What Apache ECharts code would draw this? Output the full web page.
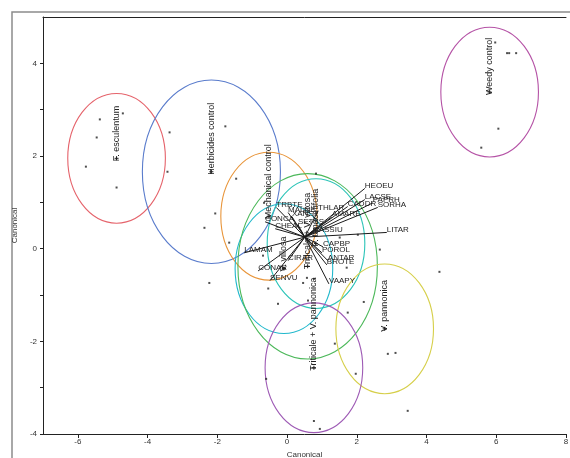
<!DOCTYPE html>
<html>
<head>
<meta charset="utf-8">
<script src="https://cdn.jsdelivr.net/npm/echarts@6/dist/echarts.min.js"></script>
<style>
html, body { margin: 0; padding: 0; background: #fff; }
#chart { width: 570px; height: 458px; }
</style>
</head>
<body>
<div id="chart"></div>
<script>
// groups: centroid, circle radius (canonical units)
const groupNames = ['F. esculentum', 'Herbicides control', 'Mechanical control', 'V. villosa', 'Triticale + V. villosa', 'P. tanacetifolia', 'V. pannonica', 'Triticale + V. pannonica', 'Weedy control']
const groupX = [-4.89, -2.17, -0.52, -0.09, 0.59, 0.83, 2.8, 0.77, 5.81]
const groupY = [1.95, 1.66, 0.7, -0.43, -0.38, 0.11, -1.73, -2.57, 3.38]
const groupR = [1.4, 1.98, 1.38, 1.4, 2.0, 1.4, 1.4, 1.4, 1.4]
const groupColors = ['#e5636b', '#5a7ccc', '#e8953a', '#22b8cc', '#4cb85a', '#2cc4b8', '#d6cf4a', '#9e5bb5', '#b553a6']

// plots (canonical scores)
const pointX = [5.97, 6.31, 6.37, 6.57, 6.06, 5.57,
  -5.77, -5.46, -5.37, -4.71, -4.89,
  -3.37, -3.43, -1.77, -1.46, -2.06, -2.37, -1.66, -2.23,
  -0.66, -0.69, -0.54, -0.26, -0.6, 0.57, 0.46, 0.77, 0.83, 2.03, 1.51, 2.66, 1.71,
  2.2, 0.6, 1.74, 1.37, 1.97, 0.77, 0.94, 2.89, 3.11, 3.46, 4.37]
const pointY = [4.45, 4.22, 4.22, 4.22, 2.59, 2.18,
  1.77, 2.40, 2.79, 2.92, 1.32,
  2.51, 1.66, 2.64, 1.51, 0.76, 0.45, 0.13, -0.74,
  0.99, -0.15, -0.86, -1.19, -2.81, -0.63, -0.74, -0.65, 1.62, 0.30, 0.24, -0.02, -0.41,
  -1.15, -1.12, -1.38, -2.05, -2.70, -3.72, -3.89, -2.27, -2.25, -3.50, -0.5]

// weed species vectors
const vecOrigin = [0.51, 0.25]
const vecNames = ['TRBTE', 'MALNE', 'THLAR', 'CADDR', 'HEOEU', 'LACSE', 'PAPRH', 'SORHA', 'XANST', 'AMARE',
  'CONCA', 'SETSS', 'CHEAL', 'CASSIU', 'LITAR', 'CAPBP', 'POROL', 'ANTAR', 'BROTE', 'VAAPY',
  'CIRAR', 'LAMAM', 'CONAR', 'SENVU']
const vecX = [-0.31, 0.03, 0.89, 1.74, 2.23, 2.23, 2.46, 2.60, 0.14, 1.29,
  -0.63, 0.31, -0.34, 0.74, 2.86, 1.03, 1.0, 1.17, 1.14, 1.2,
  0.03, -1.23, -0.83, -0.49]
const vecY = [0.89, 0.78, 0.82, 0.91, 1.30, 1.06, 0.99, 0.89, 0.69, 0.69,
  0.58, 0.52, 0.43, 0.35, 0.35, 0.04, -0.09, -0.26, -0.35, -0.76,
  -0.26, -0.09, -0.48, -0.69]

const xTicks = [-6, -4, -2, 0, 2, 4, 6, 8]
const yTicks = [-4, -3, -2, -1, 0, 1, 2, 3, 4]
const yLabels = [-4, -2, 0, 2, 4]

const font = '"Liberation Sans", Arial, sans-serif'
const axisColor = '#222'

let chart = echarts.init(document.getElementById('chart'))

let option = {
  animation: false,
  graphic: [{
    type: 'rect',
    shape: { x: 12, y: 12, width: 700, height: 600 },
    style: { fill: 'none', stroke: '#8c8c8c', lineWidth: 1.5 },
    silent: true
  }],
  grid: { left: 43, top: 17, right: 4, bottom: 24, outerBoundsMode: 'none', containLabel: false },
  xAxis: [{
    type: 'value',
    min: -7,
    max: 8,
    position: 'bottom',
    name: 'Canonical',
    nameLocation: 'middle',
    nameGap: 17,
    nameTextStyle: { fontSize: 8, color: '#333', fontFamily: font },
    axisLine: { show: true, onZero: false, lineStyle: { color: axisColor, width: 1 } },
    axisTick: { show: true, customValues: xTicks, length: 4, lineStyle: { color: axisColor } },
    axisLabel: { customValues: xTicks, fontSize: 8, color: '#333', margin: 4, fontFamily: font },
    splitLine: { show: false }
  }, {
    type: 'value',
    min: -7,
    max: 8,
    position: 'top',
    axisLine: { show: true, onZero: false, lineStyle: { color: axisColor, width: 1 } },
    axisTick: { show: false },
    axisLabel: { show: false },
    splitLine: { show: false }
  }],
  yAxis: {
    type: 'value',
    min: -4,
    max: 5,
    name: 'Canonical',
    nameLocation: 'middle',
    nameGap: 20,
    nameRotate: 90,
    nameTextStyle: { fontSize: 8, color: '#333', fontFamily: font },
    axisLine: { show: true, onZero: false, lineStyle: { color: axisColor, width: 1 } },
    axisTick: { show: true, customValues: yTicks, length: 3, lineStyle: { color: axisColor } },
    axisLabel: { customValues: yLabels, fontSize: 8, color: '#333', margin: 6, fontFamily: font },
    splitLine: { show: false }
  },
  series: [
    {
      // confidence circles
      type: 'custom',
      clip: true,
      silent: true,
      data: groupX.map((x, i) => [x, groupY[i], groupR[i], i]),
      renderItem: function (params, api) {
        let c = api.coord([api.value(0), api.value(1)])
        let s = api.size([api.value(2), api.value(2)])
        return {
          type: 'ellipse',
          shape: { cx: c[0], cy: c[1], rx: s[0], ry: s[1] },
          style: { fill: 'none', stroke: groupColors[api.value(3)], lineWidth: 1.1 }
        }
      }
    },
    {
      type: 'scatter',
      silent: true,
      symbol: 'rect',
      symbolSize: 2,
      itemStyle: { color: '#222' },
      data: pointX.map((x, i) => [x, pointY[i]])
    },
    {
      // biplot rays
      type: 'custom',
      silent: true,
      data: vecX.map((x, i) => [x, vecY[i], i]),
      renderItem: function (params, api) {
        let o = api.coord(vecOrigin)
        let e = api.coord([api.value(0), api.value(1)])
        return {
          type: 'group',
          children: [{
            type: 'line',
            shape: { x1: o[0], y1: o[1], x2: e[0], y2: e[1] },
            style: { stroke: '#1a1a1a', lineWidth: 1 }
          }, {
            type: 'text',
            x: e[0],
            y: e[1] - 3,
            style: {
              text: vecNames[api.value(2)],
              fill: '#222',
              fontSize: 8,
              fontFamily: font,
              align: 'left',
              verticalAlign: 'middle'
            }
          }]
        }
      }
    },
    {
      // group centroid markers and names
      type: 'custom',
      silent: true,
      data: groupX.map((x, i) => [x, groupY[i], i]),
      renderItem: function (params, api) {
        let c = api.coord([api.value(0), api.value(1)])
        return {
          type: 'group',
          children: [{
            type: 'line',
            shape: { x1: c[0] - 2, y1: c[1], x2: c[0] + 2, y2: c[1] },
            style: { stroke: '#222', lineWidth: 1 }
          }, {
            type: 'line',
            shape: { x1: c[0], y1: c[1] - 2, x2: c[0], y2: c[1] + 2 },
            style: { stroke: '#222', lineWidth: 1 }
          }, {
            type: 'text',
            x: c[0],
            y: c[1] + 3,
            rotation: Math.PI / 2,
            style: {
              text: groupNames[api.value(2)],
              fill: '#222',
              fontSize: 9,
              fontFamily: font,
              align: 'left',
              verticalAlign: 'middle'
            }
          }]
        }
      }
    }
  ]
}

chart.setOption(option)
</script>
</body>
</html>
